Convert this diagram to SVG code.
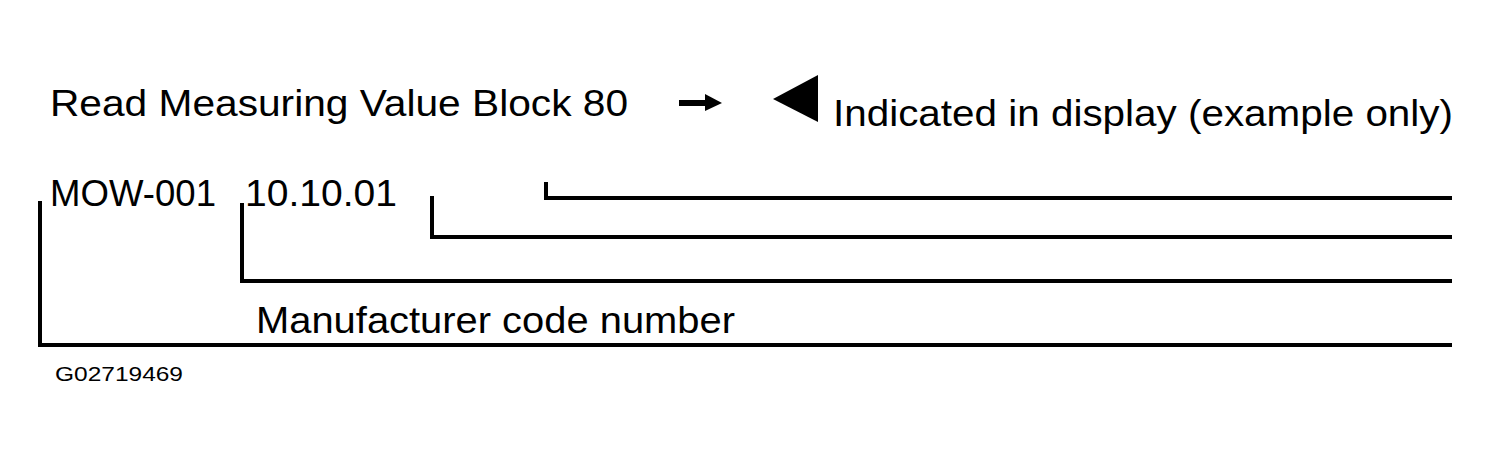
<svg xmlns="http://www.w3.org/2000/svg" width="1490" height="458" viewBox="0 0 1490 458">
<style>
text{font-family:"Liberation Sans",Arial,sans-serif;fill:#000}
.t{font-size:37px}
.c{fill:none;stroke:#000;stroke-width:4}
</style>
<rect width="1490" height="458" fill="#fff"/>
<g id="title"><text class="t" x="50" y="116" textLength="578" lengthAdjust="spacingAndGlyphs">Read Measuring Value Block 80</text></g>
<g id="arrow"><rect x="679" y="100" width="28" height="6"/><polygon points="705,94 722,103 705,111"/></g>
<g id="indicator"><polygon points="773,99 818,75 818,122"/><text class="t" x="833" y="126" textLength="620" lengthAdjust="spacingAndGlyphs">Indicated in display (example only)</text></g>
<g id="code"><text class="t" x="50" y="206" textLength="166" lengthAdjust="spacingAndGlyphs">MOW-001</text><text class="t" x="245" y="206" textLength="152" lengthAdjust="spacingAndGlyphs">10.10.01</text></g>
<g id="manufacturer"><text class="t" x="256" y="333" textLength="479" lengthAdjust="spacingAndGlyphs">Manufacturer code number</text></g>
<g id="figid"><text x="55" y="381" font-size="20" textLength="128" lengthAdjust="spacingAndGlyphs">G02719469</text></g>
<g id="connectors">
<polyline class="c" points="40,201 40,345 1452,345"/>
<polyline class="c" points="242,203 242,281 1452,281"/>
<polyline class="c" points="432,196 432,237 1452,237"/>
<polyline class="c" points="546,182 546,198 1452,198"/>
</g>
</svg>
